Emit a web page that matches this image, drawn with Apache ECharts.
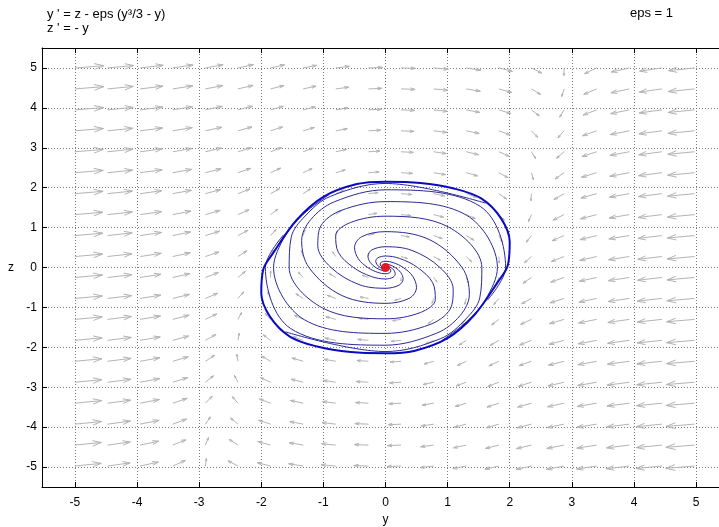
<!DOCTYPE html>
<html>
<head>
<meta charset="utf-8">
<script src="https://cdn.jsdelivr.net/npm/echarts@6/dist/echarts.min.js"></script>
<style>
  html, body { margin: 0; padding: 0; background: #fff; }
  #chart { width: 719px; height: 527px; }
</style>
</head>
<body>
<div id="chart"></div>
<script>
// Van der Pol phase plane: y' = z - eps (y^3/3 - y), z' = -y, eps = 1

const tickValues = [-5, -4, -3, -2, -1, 0, 1, 2, 3, 4, 5];

// Direction field sample points (arrow tails)
const fieldY = [-5, -4.475, -3.95, -3.425, -2.9, -2.375, -1.85, -1.325, -0.8, -0.275,
                0.25, 0.775, 1.3, 1.825, 2.35, 2.875, 3.4, 3.925, 4.45, 4.975];
const fieldZ = [-4.975, -4.45, -3.925, -3.4, -2.875, -2.35, -1.825, -1.3, -0.775, -0.25,
                0.275, 0.8, 1.325, 1.85, 2.375, 2.9, 3.425, 3.95, 4.475, 5.0];

// z' for each column of the field
const slopeZ = [5, 4.475, 3.95, 3.425, 2.9, 2.375, 1.85, 1.325, 0.8, 0.275,
                -0.25, -0.775, -1.3, -1.825, -2.35, -2.875, -3.4, -3.925, -4.45, -4.975];

// y' at each field point, one row per fieldZ value
const slopeY = [
  [31.70, 20.43, 11.62, 5.00, 0.26, -2.89, -4.72, -5.53, -5.61, -5.25, -4.73, -4.36, -4.41, -5.18, -6.96, -10.03, -14.68, -21.21, -29.90, -41.05],
  [32.22, 20.95, 12.14, 5.52, 0.78, -2.36, -4.19, -5.00, -5.08, -4.72, -4.20, -3.83, -3.88, -4.65, -6.43, -9.50, -14.15, -20.68, -29.37, -40.52],
  [32.75, 21.48, 12.67, 6.05, 1.31, -1.84, -3.67, -4.48, -4.56, -4.20, -3.68, -3.31, -3.36, -4.13, -5.91, -8.98, -13.63, -20.16, -28.85, -40.00],
  [33.27, 22.00, 13.19, 6.57, 1.83, -1.31, -3.14, -3.95, -4.03, -3.67, -3.15, -2.78, -2.83, -3.60, -5.38, -8.45, -13.10, -19.63, -28.32, -39.47],
  [33.80, 22.53, 13.72, 7.10, 2.36, -0.79, -2.62, -3.43, -3.51, -3.15, -2.63, -2.26, -2.31, -3.08, -4.86, -7.93, -12.58, -19.11, -27.80, -38.95],
  [34.32, 23.05, 14.24, 7.62, 2.88, -0.26, -2.09, -2.90, -2.98, -2.62, -2.10, -1.73, -1.78, -2.55, -4.33, -7.40, -12.05, -18.58, -27.27, -38.42],
  [34.85, 23.58, 14.77, 8.15, 3.41, 0.27, -1.57, -2.38, -2.46, -2.10, -1.58, -1.21, -1.26, -2.03, -3.81, -6.88, -11.53, -18.06, -26.75, -37.90],
  [35.37, 24.10, 15.29, 8.67, 3.93, 0.79, -1.04, -1.85, -1.93, -1.57, -1.05, -0.68, -0.73, -1.50, -3.28, -6.35, -11.00, -17.53, -26.22, -37.37],
  [35.90, 24.63, 15.82, 9.20, 4.46, 1.32, -0.52, -1.33, -1.41, -1.05, -0.53, -0.16, -0.21, -0.98, -2.76, -5.83, -10.48, -17.01, -25.70, -36.85],
  [36.42, 25.15, 16.34, 9.72, 4.98, 1.84, 0.01, -0.80, -0.88, -0.52, 0.00, 0.37, 0.32, -0.45, -2.23, -5.30, -9.95, -16.48, -25.17, -36.32],
  [36.95, 25.68, 16.87, 10.25, 5.51, 2.37, 0.54, -0.28, -0.36, 0.01, 0.53, 0.90, 0.85, 0.08, -1.71, -4.78, -9.43, -15.96, -24.65, -35.80],
  [37.47, 26.20, 17.39, 10.77, 6.03, 2.89, 1.06, 0.25, 0.17, 0.53, 1.05, 1.42, 1.37, 0.60, -1.18, -4.25, -8.90, -15.43, -24.12, -35.27],
  [38.00, 26.73, 17.92, 11.30, 6.56, 3.42, 1.59, 0.78, 0.70, 1.06, 1.58, 1.95, 1.90, 1.13, -0.66, -3.73, -8.38, -14.91, -23.60, -34.75],
  [38.52, 27.25, 18.44, 11.82, 7.08, 3.94, 2.11, 1.30, 1.22, 1.58, 2.10, 2.47, 2.42, 1.65, -0.13, -3.20, -7.85, -14.38, -23.07, -34.22],
  [39.05, 27.78, 18.97, 12.35, 7.61, 4.47, 2.64, 1.83, 1.75, 2.11, 2.63, 3.00, 2.95, 2.18, 0.40, -2.68, -7.33, -13.86, -22.55, -33.70],
  [39.57, 28.30, 19.49, 12.87, 8.13, 4.99, 3.16, 2.35, 2.27, 2.63, 3.15, 3.52, 3.47, 2.70, 0.92, -2.15, -6.80, -13.33, -22.02, -33.17],
  [40.10, 28.83, 20.02, 13.40, 8.66, 5.52, 3.69, 2.88, 2.80, 3.16, 3.68, 4.05, 4.00, 3.23, 1.45, -1.63, -6.28, -12.81, -21.50, -32.65],
  [40.62, 29.35, 20.54, 13.92, 9.18, 6.04, 4.21, 3.40, 3.32, 3.68, 4.20, 4.57, 4.52, 3.75, 1.97, -1.10, -5.75, -12.28, -20.97, -32.12],
  [41.15, 29.88, 21.07, 14.45, 9.71, 6.57, 4.74, 3.93, 3.85, 4.21, 4.73, 5.10, 5.05, 4.28, 2.50, -0.58, -5.23, -11.76, -20.45, -31.60],
  [41.67, 30.40, 21.59, 14.97, 10.23, 7.09, 5.26, 4.45, 4.37, 4.73, 5.25, 5.62, 5.57, 4.80, 3.02, -0.05, -4.70, -11.23, -19.92, -31.07]
];

// Solution curves leaving the equilibrium at the origin (clockwise, outward)
const spiralA = [[0,0],[0.040,-0.020],[0.047,-0.047],[0.037,-0.073],[0,-0.086],[-0.067,-0.067],[-0.157,0],[-0.244,0.122],[-0.283,0.283],[-0.220,0.440],[0,0.520],[0.427,0.427],[0.877,0],[1.090,-0.545],[1.041,-1.041],[0.715,-1.429],[0,-1.651],[-1.307,-1.307],[-1.802,0],[-1.611,0.805],[-1.328,1.328],[-0.913,1.825]];
const spiralB = [[0,0],[0.020,-0.040],[0,-0.047],[-0.037,-0.037],[-0.086,0],[-0.134,0.067],[-0.157,0.157],[-0.122,0.244],[0,0.287],[0.227,0.227],[0.516,0],[0.759,-0.379],[0.802,-0.802],[0.563,-1.127],[0,-1.286],[-1.014,-1.014],[-1.551,0],[-1.518,0.759],[-1.292,1.292],[-0.890,1.780],[0,2.106],[1.612,1.612]];
const spiralC = [[0,0],[-0.020,-0.020],[-0.047,0],[-0.073,0.037],[-0.086,0.086],[-0.067,0.134],[0,0.157],[0.123,0.123],[0.286,0],[0.438,-0.219],[0.499,-0.499],[0.385,-0.770],[0,-0.898],[-0.702,-0.702],[-1.232,0],[-1.350,0.675],[-1.202,1.202],[-0.823,1.646],[0,1.947],[1.528,1.528],[1.934,0],[1.640,-0.820]];
const spiralD = [[0,0],[-0.040,0.020],[-0.047,0.047],[-0.037,0.073],[0,0.086],[0.067,0.067],[0.157,0],[0.244,-0.122],[0.283,-0.283],[0.220,-0.440],[0,-0.520],[-0.427,-0.427],[-0.877,0],[-1.090,0.545],[-1.041,1.041],[-0.715,1.429],[0,1.651],[1.307,1.307],[1.802,0],[1.611,-0.805],[1.328,-1.328],[0.913,-1.825]];
const spiralE = [[0,0],[-0.020,0.040],[0,0.047],[0.037,0.037],[0.086,0],[0.134,-0.067],[0.157,-0.157],[0.122,-0.244],[0,-0.287],[-0.227,-0.227],[-0.516,0],[-0.759,0.379],[-0.802,0.802],[-0.563,1.127],[0,1.286],[1.014,1.014],[1.551,0],[1.518,-0.759],[1.292,-1.292],[0.890,-1.780],[0,-2.106],[-1.612,-1.612]];
const spiralF = [[0,0],[0.020,0.020],[0.047,0],[0.073,-0.037],[0.086,-0.086],[0.067,-0.134],[0,-0.157],[-0.123,-0.123],[-0.286,0],[-0.438,0.219],[-0.499,0.499],[-0.385,0.770],[0,0.898],[0.702,0.702],[1.232,0],[1.350,-0.675],[1.202,-1.202],[0.823,-1.646],[0,-1.947],[-1.528,-1.528],[-1.934,0],[-1.640,0.820]];

// Limit cycle (closed orbit)
const limitCycle = [[0,2.15],[0.56,2.12],[1.1,1.98],[1.54,1.73],[1.86,1.23],[2.0,0.64],[1.97,0.06],[1.81,-0.36],[1.43,-1.19],[1.0,-1.77],[0.46,-2.09],[0,-2.15],[-0.56,-2.12],[-1.1,-1.98],[-1.54,-1.73],[-1.86,-1.23],[-2.0,-0.64],[-1.97,-0.06],[-1.81,0.36],[-1.43,1.19],[-1.0,1.77],[-0.46,2.09],[0,2.15]];

// Equilibrium point
const equilibrium = [[0, 0]];

const FONT = "'Liberation Sans', Arial, Helvetica, sans-serif";

// field table for the custom arrow series
const fieldData = [];
fieldZ.forEach((z, r) => {
  fieldY.forEach((y, k) => {
    fieldData.push([y, z, slopeY[r][k], slopeZ[k]]);
  });
});

function renderArrow(params, api) {
  const y = api.value(0), z = api.value(1), u = api.value(2), v = api.value(3);
  const m = Math.sqrt(u * u + v * v);
  const s = 0.135 * Math.cbrt(m) / m;   // arrow length grows with the cube root of speed
  const a = api.coord([y, z]);
  const b = api.coord([y + u * s, z + v * s]);
  const dx = b[0] - a[0], dy = b[1] - a[1];
  const L = Math.sqrt(dx * dx + dy * dy) || 1;
  const ux = dx / L, uy = dy / L;
  const hl = 0.33 * L, hw = 0.1 * L;
  const h1 = [b[0] - hl * ux - hw * uy, b[1] - hl * uy + hw * ux];
  const h2 = [b[0] - hl * ux + hw * uy, b[1] - hl * uy - hw * ux];
  const st = { stroke: '#b4b4b4', lineWidth: 1, fill: null };
  return {
    type: 'group',
    children: [
      { type: 'polyline', shape: { points: [a, b] }, style: st },
      { type: 'polyline', shape: { points: [h1, b, h2] }, style: st }
    ]
  };
}

function spiralSeries(data) {
  return {
    type: 'line', data: data, showSymbol: false, smooth: 0.35, z: 3, silent: true,
    lineStyle: { color: '#2a2a96', width: 1 }, itemStyle: { color: '#2a2a96' }
  };
}

const chart = echarts.init(document.getElementById('chart'), null, { renderer: 'canvas' });
chart.setOption({
  animation: false,
  backgroundColor: '#ffffff',
  grid: { left: 42, right: -10, top: 48, bottom: 40, containLabel: false, outerBoundsMode: 'none' },
  xAxis: [
    {
      type: 'value', min: -5.53, max: 5.53, position: 'bottom',
      name: 'y', nameLocation: 'middle', nameGap: 27,
      nameTextStyle: { color: '#000', fontSize: 12, fontFamily: FONT },
      axisLine: { show: true, onZero: false, lineStyle: { color: '#000', width: 1 } },
      axisTick: { show: true, inside: true, length: 5, customValues: tickValues, lineStyle: { color: '#000' } },
      axisLabel: { customValues: tickValues, color: '#000', fontSize: 12, margin: 10, fontFamily: FONT },
      splitLine: { show: true, lineStyle: { color: '#7a7a7a', width: 1, type: [1, 2] } }
    },
    {
      type: 'value', min: -5.53, max: 5.53, position: 'top',
      axisLine: { show: true, onZero: false, lineStyle: { color: '#000', width: 1 } },
      axisTick: { show: true, inside: true, length: 5, customValues: tickValues, lineStyle: { color: '#000' } },
      axisLabel: { show: false },
      splitLine: { show: false }
    }
  ],
  yAxis: [
    {
      type: 'value', min: -5.5, max: 5.5, position: 'left',
      name: 'z', nameLocation: 'middle', nameGap: 28, nameRotate: 0,
      nameTextStyle: { color: '#000', fontSize: 12, fontFamily: FONT },
      axisLine: { show: true, onZero: false, lineStyle: { color: '#000', width: 1 } },
      axisTick: { show: true, inside: true, length: 5, customValues: tickValues, lineStyle: { color: '#000' } },
      axisLabel: { customValues: tickValues, color: '#000', fontSize: 12, margin: 5, fontFamily: FONT },
      splitLine: { show: true, lineStyle: { color: '#7a7a7a', width: 1, type: [1, 2] } }
    }
  ],
  graphic: [
    { type: 'text', x: 47, y: 14, style: { text: "y ' = z - eps (y\u00b3/3 - y)", fill: '#000', font: '13px ' + FONT, align: 'left', verticalAlign: 'middle' } },
    { type: 'text', x: 47, y: 28, style: { text: "z ' = - y", fill: '#000', font: '13px ' + FONT, align: 'left', verticalAlign: 'middle' } },
    { type: 'text', x: 630, y: 13, style: { text: 'eps = 1', fill: '#000', font: '13px ' + FONT, align: 'left', verticalAlign: 'middle' } }
  ],
  series: [
    {
      type: 'custom', renderItem: renderArrow, data: fieldData, z: 2, silent: true,
      encode: { x: 0, y: 1 }, clip: true
    },
    spiralSeries(spiralA), spiralSeries(spiralB), spiralSeries(spiralC),
    spiralSeries(spiralD), spiralSeries(spiralE), spiralSeries(spiralF),
    {
      type: 'line', data: limitCycle, showSymbol: false, smooth: 0.35, z: 4, silent: true,
      lineStyle: { color: '#0a0ac0', width: 2 }, itemStyle: { color: '#0a0ac0' }
    },
    {
      type: 'scatter', data: equilibrium, symbol: 'circle', symbolSize: 9, z: 5, silent: true,
      itemStyle: { color: '#ff0000' }
    }
  ]
});
</script>
</body>
</html>
